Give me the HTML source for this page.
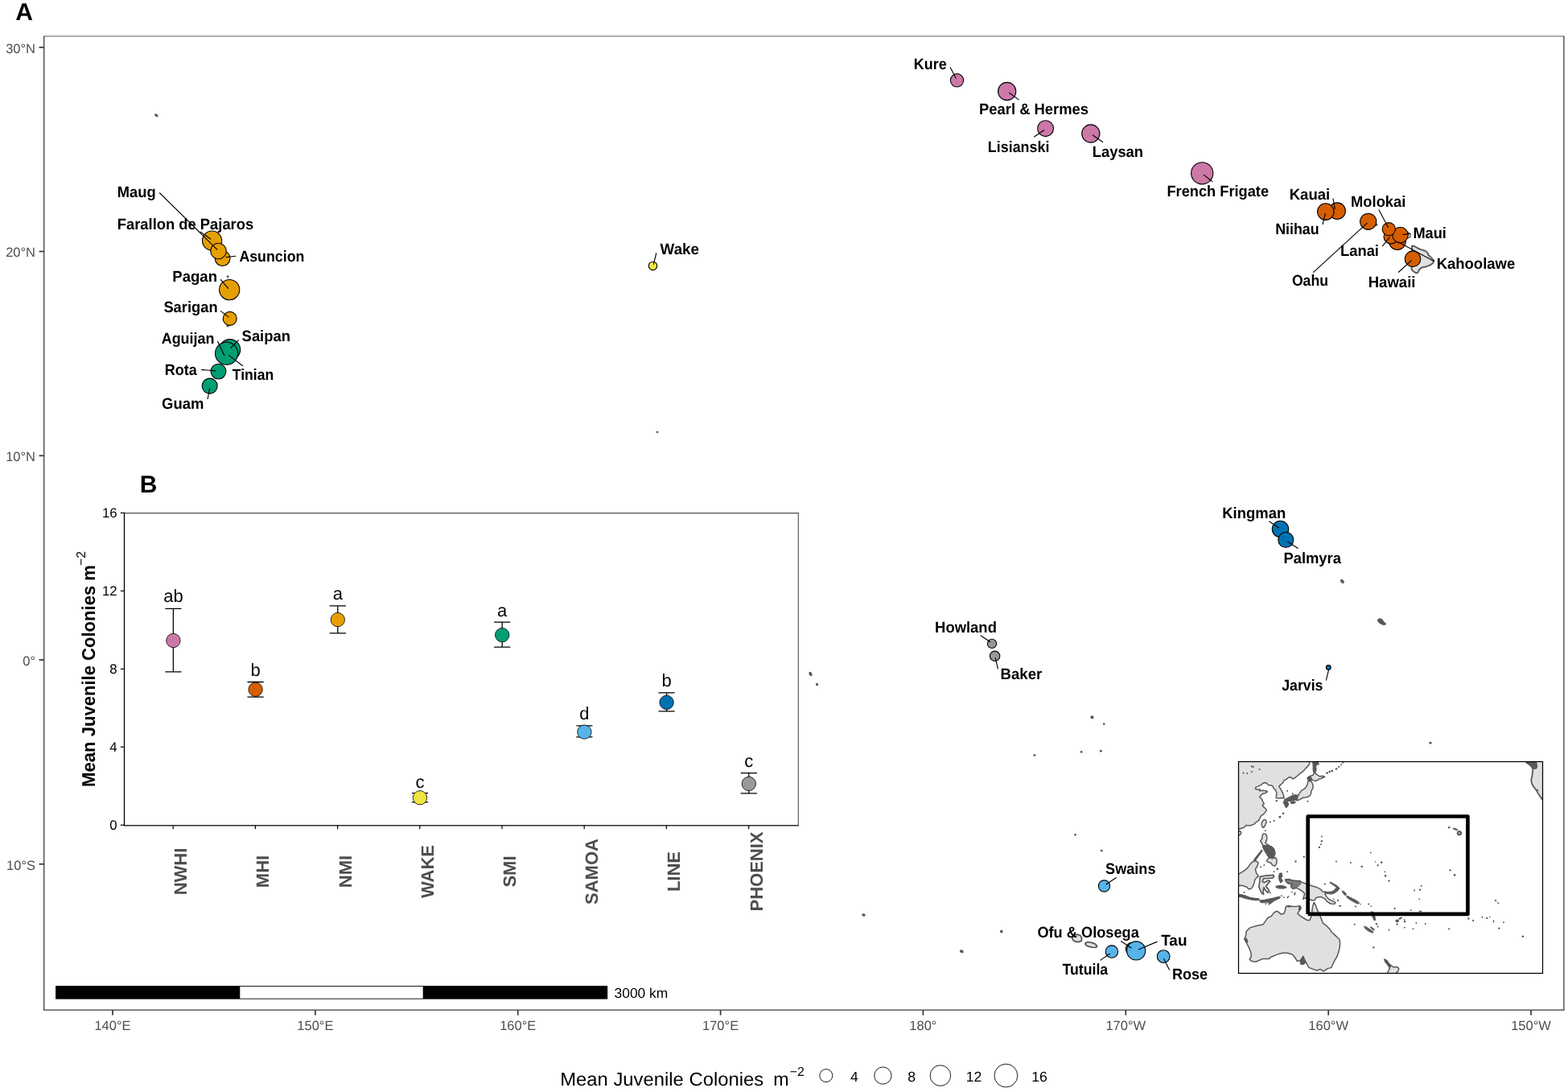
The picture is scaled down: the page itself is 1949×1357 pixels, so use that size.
<!DOCTYPE html>
<html lang="en">
<head>
<meta charset="utf-8">
<title>Mean juvenile coral colony density across the U.S. Pacific</title>
<style>
html,body{margin:0;padding:0;background:#fff;}
body{width:1949px;height:1357px;overflow:hidden;}
svg{display:block;font-family:"Liberation Sans",Arial,Helvetica,sans-serif;text-rendering:geometricPrecision;}
.lab{font-weight:bold;font-size:19.2px;fill:#000;}
.ax{font-size:16.5px;fill:#4d4d4d;}
.seg{stroke:#000;stroke-width:1.15;fill:none;}
.pt{stroke:#000;stroke-width:1.1;}
.isl{fill:#595959;stroke:none;}
.iland{fill:#e0e0e0;stroke:#595959;stroke-width:1.5;stroke-linejoin:round;}
.idark{fill:#595959;stroke:#595959;stroke-width:1.0;stroke-linejoin:round;}
.land{fill:#e0e0e0;stroke:#595959;stroke-width:1.2;stroke-linejoin:round;}
</style>
</head>
<body>
<svg role="img" aria-label="Map of mean juvenile coral colony density by island with regional summary plot" width="1949" height="1357" viewBox="0 0 1949 1357">
<rect x="0" y="0" width="1949" height="1357" fill="#ffffff"/>
<g id="map-islands">
<ellipse class="isl" cx="194.3" cy="143.3" rx="2.55" ry="1.55" transform="rotate(40 194.3 143.3)"/>
<ellipse class="isl" cx="283.1" cy="343.8" rx="1.45" ry="1.45" transform="rotate(0 283.1 343.8)"/>
<ellipse class="isl" cx="283.0" cy="405.3" rx="1.55" ry="1.25" transform="rotate(0 283.0 405.3)"/>
<ellipse class="isl" cx="817.0" cy="537.0" rx="1.45" ry="1.25" transform="rotate(0 817.0 537.0)"/>
<ellipse class="isl" cx="1007.5" cy="837.5" rx="1.85" ry="2.85" transform="rotate(-25 1007.5 837.5)"/>
<ellipse class="isl" cx="1015.5" cy="850.5" rx="1.55" ry="1.85" transform="rotate(-20 1015.5 850.5)"/>
<ellipse class="isl" cx="1286.0" cy="938.5" rx="1.55" ry="1.35" transform="rotate(0 1286.0 938.5)"/>
<ellipse class="isl" cx="1344.2" cy="934.4" rx="1.45" ry="1.45" transform="rotate(0 1344.2 934.4)"/>
<ellipse class="isl" cx="1368.4" cy="933.3" rx="1.45" ry="1.45" transform="rotate(0 1368.4 933.3)"/>
<ellipse class="isl" cx="1357.4" cy="891.3" rx="2.25" ry="1.95" transform="rotate(30 1357.4 891.3)"/>
<ellipse class="isl" cx="1372.2" cy="899.6" rx="1.35" ry="1.35" transform="rotate(0 1372.2 899.6)"/>
<ellipse class="isl" cx="1336.5" cy="1037.3" rx="1.35" ry="1.35" transform="rotate(0 1336.5 1037.3)"/>
<ellipse class="isl" cx="1369.3" cy="1057.2" rx="1.35" ry="1.35" transform="rotate(0 1369.3 1057.2)"/>
<ellipse class="isl" cx="1073.5" cy="1137.0" rx="2.25" ry="1.75" transform="rotate(10 1073.5 1137.0)"/>
<ellipse class="isl" cx="1195.3" cy="1182.3" rx="2.45" ry="1.85" transform="rotate(20 1195.3 1182.3)"/>
<ellipse class="isl" cx="1244.8" cy="1157.5" rx="1.75" ry="2.05" transform="rotate(0 1244.8 1157.5)"/>
<ellipse class="isl" cx="1668.4" cy="722.5" rx="2.85" ry="1.95" transform="rotate(50 1668.4 722.5)"/>
<ellipse class="isl" cx="1778.0" cy="923.2" rx="1.65" ry="1.45" transform="rotate(0 1778.0 923.2)"/>
<path class="isl" d="M1712.3 769.6 L1714.6 768.3 L1717.8 768.9 L1719.3 770.9 L1720.6 773.0 L1722.9 774.5 L1722.6 776.6 L1719.6 776.9 L1716.4 775.8 L1713.6 773.8 L1712.0 771.6 Z"/>
<path class="land" style="stroke-width:2;stroke:#5e5e5e" d="M1755.1 305.5 L1757.1 305.7 L1760.1 307.2 L1763.0 308.8 L1766.3 310.1 L1770.0 311.2 L1773.0 312.7 L1774.8 314.9 L1775.5 317.1 L1777.4 318.6 L1779.2 320.4 L1782.5 324.1 L1781.4 326.7 L1778.5 328.9 L1775.5 330.4 L1771.9 331.5 L1768.2 332.2 L1765.6 333.7 L1763.8 335.5 L1762.6 338.5 L1760.8 339.2 L1758.6 338.5 L1755.6 336.3 L1754.5 334.1 L1754.5 331.5 L1754.9 320.8 L1755.1 310.5 Z"/>
<path class="land" style="stroke-width:1.3" d="M1744 288.5 L1750.5 289.0 L1753.2 291.0 L1753.0 294.4 L1750.0 295.8 L1744 296 Z"/>
<ellipse class="isl" cx="1710.8" cy="279.2" rx="1.6" ry="1.6"/>
<path class="land" style="stroke-width:1.8" d="M1332.6 1165.0 L1335.0 1162.2 L1339.0 1161.2 L1343.0 1162.6 L1344.6 1165.8 L1344.2 1169.4 L1340.6 1170.6 L1336.4 1170.0 L1333.6 1168.0 Z"/>
<path class="land" style="stroke-width:1.8" d="M1348.8 1172.2 L1351.8 1170.6 L1357.0 1171.4 L1361.4 1173.2 L1363.6 1175.6 L1362.6 1177.4 L1357.6 1177.2 L1352.6 1176.0 L1349.6 1174.4 Z"/>
</g>
<g id="points">
<circle class="pt" cx="276.6" cy="321.1" r="9.4" fill="#E69F00"/>
<circle class="pt" cx="263.6" cy="299.1" r="12.1" fill="#E69F00"/>
<circle class="pt" cx="271.5" cy="312.0" r="9.8" fill="#E69F00"/>
<circle class="pt" cx="285.2" cy="360.1" r="12.6" fill="#E69F00"/>
<circle class="pt" cx="285.7" cy="395.9" r="8.5" fill="#E69F00"/>
<circle class="pt" cx="285.7" cy="434.6" r="13.0" fill="#009E73"/>
<circle class="pt" cx="280.0" cy="441.5" r="9.0" fill="#009E73"/>
<circle class="pt" cx="281.6" cy="439.2" r="14.1" fill="#009E73"/>
<circle class="pt" cx="271.5" cy="461.6" r="9.4" fill="#009E73"/>
<circle class="pt" cx="260.7" cy="479.6" r="9.5" fill="#009E73"/>
<circle class="pt" cx="811.5" cy="330.4" r="5.2" fill="#F0E442"/>
<circle class="pt" cx="1189.5" cy="99.8" r="8.15" fill="#CC79A7"/>
<circle class="pt" cx="1251.7" cy="113.5" r="11.1" fill="#CC79A7"/>
<circle class="pt" cx="1299.6" cy="159.7" r="9.9" fill="#CC79A7"/>
<circle class="pt" cx="1355.8" cy="166.0" r="11.1" fill="#CC79A7"/>
<circle class="pt" cx="1494.2" cy="215.3" r="13.6" fill="#CC79A7"/>
<circle class="pt" cx="1662.1" cy="262.2" r="10.3" fill="#D55E00"/>
<circle class="pt" cx="1647.8" cy="263.1" r="10.3" fill="#D55E00"/>
<circle class="pt" cx="1700.7" cy="275.3" r="10.1" fill="#D55E00"/>
<circle class="pt" cx="1736.9" cy="300.1" r="10.4" fill="#D55E00"/>
<circle class="pt" cx="1729.0" cy="293.9" r="9.0" fill="#D55E00"/>
<circle class="pt" cx="1740.5" cy="292.0" r="9.75" fill="#D55E00"/>
<circle class="pt" cx="1726.3" cy="284.7" r="8.1" fill="#D55E00"/>
<circle class="pt" cx="1756.0" cy="321.7" r="9.8" fill="#D55E00"/>
<circle class="pt" cx="1591.5" cy="657.5" r="10.2" fill="#0072B2"/>
<circle class="pt" cx="1598.3" cy="670.8" r="9.5" fill="#0072B2"/>
<circle class="pt" cx="1651.3" cy="829.5" r="2.9" fill="#0072B2"/>
<circle class="pt" cx="1233.0" cy="799.9" r="5.6" fill="#999999"/>
<circle class="pt" cx="1236.6" cy="815.3" r="6.2" fill="#999999"/>
<circle class="pt" cx="1372.5" cy="1101.0" r="7.1" fill="#56B4E9"/>
<circle class="pt" cx="1381.9" cy="1182.6" r="7.7" fill="#56B4E9"/>
<circle class="pt" cx="1407.2" cy="1179.2" r="7.9" fill="#56B4E9"/>
<circle class="pt" cx="1412.2" cy="1181.4" r="11.55" fill="#56B4E9"/>
<circle class="pt" cx="1446.2" cy="1188.6" r="7.9" fill="#56B4E9"/>
</g>
<g id="segments">
<line class="seg" x1="198.2" y1="239.5" x2="270.1" y2="310.3"/>
<line class="seg" x1="249.1" y1="287.9" x2="262.1" y2="297.3"/>
<line class="seg" x1="280.9" y1="319.6" x2="293.2" y2="318.2"/>
<line class="seg" x1="274.1" y1="347.1" x2="283.8" y2="358.6"/>
<line class="seg" x1="274.1" y1="386.4" x2="284.5" y2="394.4"/>
<line class="seg" x1="270.4" y1="424.0" x2="279.0" y2="442.1"/>
<line class="seg" x1="296.8" y1="422.3" x2="286.7" y2="432.7"/>
<line class="seg" x1="301.8" y1="454.7" x2="284.2" y2="441.4"/>
<line class="seg" x1="250.1" y1="459.4" x2="268.6" y2="460.9"/>
<line class="seg" x1="260.7" y1="482.5" x2="258.1" y2="496.0"/>
<line class="seg" x1="815.8" y1="314.3" x2="812.3" y2="328.7"/>
<line class="seg" x1="1181.1" y1="83.5" x2="1188.3" y2="97.4"/>
<line class="seg" x1="1254.3" y1="115.3" x2="1266.6" y2="124.1"/>
<line class="seg" x1="1298.0" y1="161.5" x2="1285.1" y2="170.3"/>
<line class="seg" x1="1358.0" y1="167.7" x2="1371.0" y2="176.8"/>
<line class="seg" x1="1496.0" y1="217.1" x2="1507.2" y2="225.8"/>
<line class="seg" x1="1657.0" y1="246.5" x2="1659.4" y2="260.0"/>
<line class="seg" x1="1647.4" y1="265.2" x2="1644.0" y2="279.0"/>
<line class="seg" x1="1713.8" y1="260.4" x2="1725.7" y2="283.1"/>
<line class="seg" x1="1699.4" y1="277.2" x2="1632.3" y2="338.6"/>
<line class="seg" x1="1718.2" y1="306.1" x2="1727.6" y2="294.5"/>
<line class="seg" x1="1743.3" y1="291.5" x2="1753.1" y2="290.4"/>
<line class="seg" x1="1737.6" y1="300.5" x2="1782.5" y2="324.7"/>
<line class="seg" x1="1754.7" y1="323.4" x2="1738.1" y2="338.5"/>
<line class="seg" x1="1577.5" y1="647.7" x2="1589.7" y2="656.0"/>
<line class="seg" x1="1600.3" y1="672.9" x2="1613.6" y2="681.6"/>
<line class="seg" x1="1651.6" y1="832.2" x2="1648.3" y2="845.6"/>
<line class="seg" x1="1218.8" y1="789.8" x2="1231.1" y2="797.8"/>
<line class="seg" x1="1237.1" y1="817.3" x2="1240.5" y2="831.3"/>
<line class="seg" x1="1374.7" y1="1099.1" x2="1387.7" y2="1090.4"/>
<line class="seg" x1="1393.2" y1="1169.6" x2="1406.5" y2="1178.2"/>
<line class="seg" x1="1415.1" y1="1180.0" x2="1438.5" y2="1170.1"/>
<line class="seg" x1="1379.7" y1="1185.0" x2="1367.5" y2="1193.4"/>
<line class="seg" x1="1446.5" y1="1191.2" x2="1453.7" y2="1205.5"/>
</g>
<g id="labels" class="lab">
<text x="145.8" y="245.3" textLength="47.9" lengthAdjust="spacingAndGlyphs">Maug</text>
<text x="145.8" y="284.7" textLength="169.4" lengthAdjust="spacingAndGlyphs">Farallon de Pajaros</text>
<text x="297.4" y="324.7" textLength="81.0" lengthAdjust="spacingAndGlyphs">Asuncion</text>
<text x="214.3" y="349.5" textLength="55.7" lengthAdjust="spacingAndGlyphs">Pagan</text>
<text x="203.4" y="387.9" textLength="67.2" lengthAdjust="spacingAndGlyphs">Sarigan</text>
<text x="200.7" y="427.4" textLength="65.8" lengthAdjust="spacingAndGlyphs">Aguijan</text>
<text x="300.6" y="423.8" textLength="60.4" lengthAdjust="spacingAndGlyphs">Saipan</text>
<text x="288.8" y="472.0" textLength="51.4" lengthAdjust="spacingAndGlyphs">Tinian</text>
<text x="204.7" y="466.2" textLength="40.0" lengthAdjust="spacingAndGlyphs">Rota</text>
<text x="201.1" y="508.1" textLength="52.4" lengthAdjust="spacingAndGlyphs">Guam</text>
<text x="820.6" y="316.0" textLength="48.4" lengthAdjust="spacingAndGlyphs">Wake</text>
<text x="1135.8" y="85.8" textLength="40.9" lengthAdjust="spacingAndGlyphs">Kure</text>
<text x="1217.1" y="142.0" textLength="135.9" lengthAdjust="spacingAndGlyphs">Pearl &amp; Hermes</text>
<text x="1227.8" y="188.6" textLength="76.6" lengthAdjust="spacingAndGlyphs">Lisianski</text>
<text x="1357.7" y="194.8" textLength="63.4" lengthAdjust="spacingAndGlyphs">Laysan</text>
<text x="1450.4" y="244.3" textLength="126.7" lengthAdjust="spacingAndGlyphs">French Frigate</text>
<text x="1602.7" y="247.7" textLength="50.6" lengthAdjust="spacingAndGlyphs">Kauai</text>
<text x="1585.2" y="291.2" textLength="54.5" lengthAdjust="spacingAndGlyphs">Niihau</text>
<text x="1679.1" y="256.8" textLength="68.2" lengthAdjust="spacingAndGlyphs">Molokai</text>
<text x="1756.4" y="295.7" textLength="41.5" lengthAdjust="spacingAndGlyphs">Maui</text>
<text x="1665.9" y="317.8" textLength="48.1" lengthAdjust="spacingAndGlyphs">Lanai</text>
<text x="1785.7" y="333.6" textLength="97.5" lengthAdjust="spacingAndGlyphs">Kahoolawe</text>
<text x="1700.7" y="356.7" textLength="58.8" lengthAdjust="spacingAndGlyphs">Hawaii</text>
<text x="1605.9" y="355.1" textLength="45.1" lengthAdjust="spacingAndGlyphs">Oahu</text>
<text x="1519.2" y="643.8" textLength="79.0" lengthAdjust="spacingAndGlyphs">Kingman</text>
<text x="1595.4" y="699.6" textLength="71.6" lengthAdjust="spacingAndGlyphs">Palmyra</text>
<text x="1593.2" y="857.9" textLength="51.3" lengthAdjust="spacingAndGlyphs">Jarvis</text>
<text x="1162.1" y="785.9" textLength="76.8" lengthAdjust="spacingAndGlyphs">Howland</text>
<text x="1243.6" y="843.5" textLength="51.6" lengthAdjust="spacingAndGlyphs">Baker</text>
<text x="1374.1" y="1085.8" textLength="62.4" lengthAdjust="spacingAndGlyphs">Swains</text>
<text x="1289.4" y="1165.2" textLength="126.4" lengthAdjust="spacingAndGlyphs">Ofu &amp; Olosega</text>
<text x="1320.5" y="1210.7" textLength="56.7" lengthAdjust="spacingAndGlyphs">Tutuila</text>
<text x="1443.2" y="1175.0" textLength="32.3" lengthAdjust="spacingAndGlyphs">Tau</text>
<text x="1456.9" y="1217.1" textLength="44.2" lengthAdjust="spacingAndGlyphs">Rose</text>
</g>
<g id="plot-b">
<rect x="96" y="586" width="902" height="560" fill="#ffffff"/>
<path d="M154.5 637.6 H992.3 V1025.8" fill="none" stroke="#4d4d4d" stroke-width="1.1"/>
<path d="M154.5 637.1 V1025.8 H992.8" fill="none" stroke="#000" stroke-width="1.3"/>
<line x1="149.8" x2="154.5" y1="1025.3" y2="1025.3" stroke="#000" stroke-width="1.2"/>
<text x="145.6" y="1031.3" text-anchor="end" font-size="16.8" fill="#000">0</text>
<line x1="149.8" x2="154.5" y1="928.3" y2="928.3" stroke="#000" stroke-width="1.2"/>
<text x="145.6" y="934.3" text-anchor="end" font-size="16.8" fill="#000">4</text>
<line x1="149.8" x2="154.5" y1="831.3" y2="831.3" stroke="#000" stroke-width="1.2"/>
<text x="145.6" y="837.3" text-anchor="end" font-size="16.8" fill="#000">8</text>
<line x1="149.8" x2="154.5" y1="734.3" y2="734.3" stroke="#000" stroke-width="1.2"/>
<text x="145.6" y="740.3" text-anchor="end" font-size="16.8" fill="#000">12</text>
<line x1="149.8" x2="154.5" y1="637.3" y2="637.3" stroke="#000" stroke-width="1.2"/>
<text x="145.6" y="643.3" text-anchor="end" font-size="16.8" fill="#000">16</text>
<line x1="215.2" x2="215.2" y1="1025.8" y2="1030.2" stroke="#000" stroke-width="1.2"/>
<text x="232.1" y="1083" text-anchor="middle" font-size="22" font-weight="bold" fill="#4d4d4d" transform="rotate(-90 232.1 1083)">NWHI</text>
<line x1="317.4" x2="317.4" y1="1025.8" y2="1030.2" stroke="#000" stroke-width="1.2"/>
<text x="334.3" y="1083" text-anchor="middle" font-size="22" font-weight="bold" fill="#4d4d4d" transform="rotate(-90 334.3 1083)">MHI</text>
<line x1="419.6" x2="419.6" y1="1025.8" y2="1030.2" stroke="#000" stroke-width="1.2"/>
<text x="436.5" y="1083" text-anchor="middle" font-size="22" font-weight="bold" fill="#4d4d4d" transform="rotate(-90 436.5 1083)">NMI</text>
<line x1="521.8" x2="521.8" y1="1025.8" y2="1030.2" stroke="#000" stroke-width="1.2"/>
<text x="538.7" y="1083" text-anchor="middle" font-size="22" font-weight="bold" fill="#4d4d4d" transform="rotate(-90 538.7 1083)">WAKE</text>
<line x1="624.0" x2="624.0" y1="1025.8" y2="1030.2" stroke="#000" stroke-width="1.2"/>
<text x="640.9" y="1083" text-anchor="middle" font-size="22" font-weight="bold" fill="#4d4d4d" transform="rotate(-90 640.9 1083)">SMI</text>
<line x1="726.2" x2="726.2" y1="1025.8" y2="1030.2" stroke="#000" stroke-width="1.2"/>
<text x="743.1" y="1083" text-anchor="middle" font-size="22" font-weight="bold" fill="#4d4d4d" transform="rotate(-90 743.1 1083)">SAMOA</text>
<line x1="828.4" x2="828.4" y1="1025.8" y2="1030.2" stroke="#000" stroke-width="1.2"/>
<text x="845.3" y="1083" text-anchor="middle" font-size="22" font-weight="bold" fill="#4d4d4d" transform="rotate(-90 845.3 1083)">LINE</text>
<line x1="930.6" x2="930.6" y1="1025.8" y2="1030.2" stroke="#000" stroke-width="1.2"/>
<text x="947.5" y="1083" text-anchor="middle" font-size="22" font-weight="bold" fill="#4d4d4d" transform="rotate(-90 947.5 1083)">PHOENIX</text>
<text x="118.0" y="977.9" font-size="23.0" font-weight="bold" fill="#000" textLength="275.9" lengthAdjust="spacingAndGlyphs" transform="rotate(-90 118.0 977.9)">Mean Juvenile Colonies m</text>
<text x="105.8" y="703.0" font-size="15.8" fill="#000" transform="rotate(-90 105.8 703.0)">−2</text>
<path d="M205.3 756.3 H225.5 M205.3 834.9 H225.5 M215.4 756.3 V834.9" stroke="#000" stroke-width="1.3" fill="none"/>
<circle cx="215.4" cy="796.0" r="8.7" fill="#CC79A7" stroke="#000" stroke-width="0.8"/>
<text x="215.4" y="747.9" text-anchor="middle" font-size="22" fill="#000">ab</text>
<path d="M307.5 847.5 H327.7 M307.5 866.2 H327.7 M317.6 847.5 V866.2" stroke="#000" stroke-width="1.3" fill="none"/>
<circle cx="317.6" cy="856.8" r="8.7" fill="#D55E00" stroke="#000" stroke-width="0.8"/>
<text x="317.6" y="839.5" text-anchor="middle" font-size="22" fill="#000">b</text>
<path d="M409.7 752.8 H429.9 M409.7 786.8 H429.9 M419.8 752.8 V786.8" stroke="#000" stroke-width="1.3" fill="none"/>
<circle cx="419.8" cy="770.1" r="8.7" fill="#E69F00" stroke="#000" stroke-width="0.8"/>
<text x="419.8" y="745.1" text-anchor="middle" font-size="22" fill="#000">a</text>
<path d="M511.9 985.6 H532.1 M511.9 996.9 H532.1 M522.0 985.6 V996.9" stroke="#000" stroke-width="1.3" fill="none"/>
<circle cx="522.0" cy="991.3" r="8.7" fill="#F0E442" stroke="#000" stroke-width="0.8"/>
<text x="522.0" y="978.6" text-anchor="middle" font-size="22" fill="#000">c</text>
<path d="M614.1 773.1 H634.3 M614.1 804.1 H634.3 M624.2 773.1 V804.1" stroke="#000" stroke-width="1.3" fill="none"/>
<circle cx="624.2" cy="789.1" r="8.7" fill="#009E73" stroke="#000" stroke-width="0.8"/>
<text x="624.2" y="765.5" text-anchor="middle" font-size="22" fill="#000">a</text>
<path d="M716.3 901.9 H736.5 M716.3 915.9 H736.5 M726.4 901.9 V915.9" stroke="#000" stroke-width="1.3" fill="none"/>
<circle cx="726.4" cy="909.6" r="8.7" fill="#56B4E9" stroke="#000" stroke-width="0.8"/>
<text x="726.4" y="893.5" text-anchor="middle" font-size="22" fill="#000">d</text>
<path d="M818.5 860.9 H838.7 M818.5 883.9 H838.7 M828.6 860.9 V883.9" stroke="#000" stroke-width="1.3" fill="none"/>
<circle cx="828.6" cy="872.9" r="8.7" fill="#0072B2" stroke="#000" stroke-width="0.8"/>
<text x="828.6" y="852.8" text-anchor="middle" font-size="22" fill="#000">b</text>
<path d="M920.7 960.6 H940.9 M920.7 985.9 H940.9 M930.8 960.6 V985.9" stroke="#000" stroke-width="1.3" fill="none"/>
<circle cx="930.8" cy="973.9" r="8.7" fill="#999999" stroke="#000" stroke-width="0.8"/>
<text x="930.8" y="952.6" text-anchor="middle" font-size="22" fill="#000">c</text>
<text x="184.6" y="611.9" text-anchor="middle" font-size="30" font-weight="bold" fill="#000">B</text>
</g>
<g id="inset">
<clipPath id="insetclip"><rect x="1539.5" y="946.5" width="378.0" height="263.0"/></clipPath>
<rect x="1539.5" y="946.5" width="378.0" height="263.0" fill="#ffffff"/>
<g clip-path="url(#insetclip)">
<path class="iland" d="M1536.2 944.1 L1628.0 944.1 L1627.5 949.8 L1624.9 952.9 L1622.3 955.5 L1619.7 958.6 L1616.1 961.1 L1612.5 964.2 L1609.4 966.8 L1606.8 967.8 L1604.3 965.8 L1602.2 965.8 L1599.1 968.4 L1596.0 969.9 L1594.5 973.0 L1591.9 975.1 L1589.8 977.1 L1591.9 980.7 L1594.0 984.4 L1595.5 988.5 L1596.0 992.1 L1592.9 991.6 L1589.8 992.1 L1586.2 991.4 L1586.9 985.4 L1585.2 981.3 L1583.1 979.7 L1582.1 977.1 L1580.5 976.1 L1576.4 975.6 L1574.9 973.5 L1572.3 972.5 L1569.7 973.5 L1567.1 975.6 L1564.0 977.1 L1560.9 978.2 L1560.4 980.2 L1563.0 981.3 L1566.1 980.7 L1565.6 982.8 L1569.2 982.3 L1573.3 982.8 L1575.4 983.8 L1573.3 985.4 L1570.2 985.9 L1567.6 988.0 L1565.6 990.5 L1568.2 992.6 L1569.7 996.2 L1571.3 998.8 L1569.2 1000.9 L1571.3 1003.4 L1573.3 1005.0 L1574.4 1007.0 L1572.3 1009.6 L1570.2 1012.2 L1567.6 1013.7 L1566.1 1016.8 L1564.6 1019.4 L1561.5 1021.5 L1558.9 1024.1 L1555.3 1025.6 L1551.7 1026.1 L1548.6 1025.6 L1546.5 1028.2 L1542.9 1029.2 L1539.1 1030.8 L1536.2 1031.3 Z"/>
<path class="iland" d="M1536.2 1033.3 L1541.3 1032.8 L1542.9 1034.4 L1541.9 1037.0 L1539.8 1038.0 L1536.2 1038.0 Z"/>
<circle class="isl" cx="1555.8" cy="952.4" r="1.04"/>
<circle class="isl" cx="1557.8" cy="952.9" r="1.04"/>
<circle class="isl" cx="1565.6" cy="956.0" r="1.04"/>
<circle class="isl" cx="1545.5" cy="960.6" r="1.04"/>
<circle class="isl" cx="1550.1" cy="961.1" r="1.04"/>
<circle class="isl" cx="1555.8" cy="959.1" r="1.04"/>
<path class="iland" d="M1571.3 1018.4 L1573.3 1018.9 L1574.1 1021.5 L1572.8 1025.1 L1570.7 1028.5 L1569.0 1027.7 L1568.0 1024.1 L1569.2 1020.5 Z"/>
<path class="iland" d="M1597.0 993.6 L1601.2 991.6 L1605.3 989.5 L1609.4 988.0 L1613.5 988.5 L1615.6 985.4 L1617.7 982.3 L1620.8 980.7 L1623.3 978.2 L1624.9 975.1 L1625.9 970.9 L1628.0 969.9 L1630.6 972.0 L1632.1 976.1 L1631.6 980.2 L1630.1 982.3 L1629.5 986.4 L1628.0 989.0 L1624.9 990.5 L1621.8 991.1 L1618.7 991.6 L1615.6 993.6 L1612.5 994.7 L1609.4 993.6 L1606.3 994.7 L1602.2 995.2 L1599.1 994.7 Z"/>
<path class="idark" d="M1596.0 994.7 L1600.1 995.7 L1601.7 998.8 L1600.7 1001.9 L1598.6 1004.0 L1597.0 1000.9 L1595.5 997.8 Z"/>
<path class="idark" d="M1604.3 996.2 L1609.4 995.7 L1610.5 997.2 L1607.4 998.8 L1604.3 998.3 Z"/>
<path class="idark" d="M1597.0 993.6 L1601.2 991.6 L1605.3 989.5 L1609.4 988.0 L1613.5 988.5 L1612.5 994.7 L1609.4 993.6 L1606.3 994.7 L1602.2 995.2 L1599.1 994.7 Z"/>
<path class="iland" d="M1625.9 965.8 L1629.0 964.2 L1632.1 963.2 L1634.2 959.6 L1636.2 962.2 L1640.4 964.8 L1644.5 964.2 L1646.6 965.3 L1642.4 967.3 L1639.3 968.4 L1636.2 970.4 L1633.1 969.9 L1630.6 968.9 L1628.0 970.9 L1626.4 968.9 Z"/>
<path class="idark" d="M1624.9 966.3 L1628.5 964.8 L1630.6 966.8 L1629.5 970.4 L1627.0 970.9 L1625.4 968.9 Z"/>
<path class="idark" d="M1631.6 944.1 L1637.8 944.1 L1639.3 950.3 L1637.3 949.8 L1635.7 952.4 L1636.2 956.5 L1635.2 959.6 L1633.1 960.6 L1632.1 957.5 L1632.1 952.4 Z"/>
<circle class="isl" cx="1649.6" cy="960.6" r="1.3"/>
<circle class="isl" cx="1652.7" cy="959.1" r="1.3"/>
<circle class="isl" cx="1655.8" cy="958.1" r="1.43"/>
<circle class="isl" cx="1661.0" cy="955.5" r="1.3"/>
<circle class="isl" cx="1664.1" cy="952.9" r="1.04"/>
<circle class="isl" cx="1667.2" cy="950.3" r="1.04"/>
<circle class="isl" cx="1669.2" cy="947.7" r="1.04"/>
<circle class="isl" cx="1595.0" cy="1010.7" r="1.3"/>
<circle class="isl" cx="1590.9" cy="1015.3" r="1.43"/>
<circle class="isl" cx="1583.6" cy="1019.9" r="1.04"/>
<circle class="isl" cx="1579.0" cy="1021.5" r="1.04"/>
<circle class="isl" cx="1600.1" cy="982.8" r="1.04"/>
<circle class="isl" cx="1606.8" cy="986.4" r="1.04"/>
<circle class="isl" cx="1625.4" cy="995.7" r="1.04"/>
<circle class="isl" cx="1586.7" cy="995.2" r="1.17"/>
<circle class="isl" cx="1572.8" cy="1032.3" r="1.04"/>
<path class="iland" d="M1570.7 1035.9 L1573.8 1037.0 L1574.9 1040.6 L1574.4 1044.2 L1572.8 1047.3 L1575.4 1049.3 L1578.5 1051.4 L1581.6 1052.9 L1583.6 1055.5 L1582.1 1056.0 L1578.5 1054.0 L1575.4 1052.4 L1572.3 1051.4 L1569.7 1050.4 L1568.2 1047.3 L1566.6 1045.2 L1568.7 1042.1 L1569.2 1038.0 Z"/>
<path class="idark" d="M1569.7 1050.9 L1575.4 1050.4 L1580.5 1051.9 L1584.2 1055.5 L1585.2 1060.7 L1583.6 1065.3 L1580.5 1067.4 L1576.9 1065.8 L1574.4 1061.7 L1571.8 1057.6 L1569.7 1053.5 Z"/>
<path class="idark" d="M1568.2 1056.0 L1569.4 1057.1 L1560.9 1068.9 L1558.9 1069.7 L1558.4 1068.4 Z"/>
<path class="iland" d="M1575.4 1067.9 L1578.5 1065.8 L1581.6 1066.9 L1585.7 1065.8 L1587.2 1068.9 L1586.7 1073.1 L1584.7 1076.2 L1581.6 1075.1 L1579.5 1072.0 L1576.4 1071.5 L1574.4 1070.0 Z"/>
<circle class="isl" cx="1642.9" cy="1039.5" r="0.98"/>
<circle class="isl" cx="1642.9" cy="1045.2" r="1.17"/>
<circle class="isl" cx="1641.9" cy="1049.3" r="0.98"/>
<circle class="isl" cx="1639.9" cy="1052.9" r="1.17"/>
<circle class="isl" cx="1620.8" cy="1064.8" r="1.17"/>
<circle class="isl" cx="1610.5" cy="1070.5" r="1.17"/>
<circle class="isl" cx="1661.0" cy="1070.5" r="0.98"/>
<circle class="isl" cx="1679.0" cy="1072.0" r="0.98"/>
<circle class="isl" cx="1693.0" cy="1076.7" r="0.98"/>
<circle class="isl" cx="1703.8" cy="1059.6" r="0.98"/>
<circle class="isl" cx="1709.5" cy="1071.0" r="0.78"/>
<circle class="isl" cx="1712.6" cy="1075.1" r="0.98"/>
<circle class="isl" cx="1717.2" cy="1071.8" r="1.3"/>
<circle class="isl" cx="1567.1" cy="1077.2" r="0.98"/>
<circle class="isl" cx="1571.3" cy="1075.1" r="0.98"/>
<circle class="isl" cx="1587.8" cy="1079.2" r="0.98"/>
<path class="iland" d="M1536.2 1088.4 L1541.9 1084.8 L1545.5 1082.7 L1549.1 1080.2 L1552.2 1076.5 L1554.8 1072.9 L1557.8 1070.4 L1560.9 1069.8 L1564.0 1071.9 L1563.0 1076.0 L1560.4 1080.2 L1561.5 1084.8 L1564.6 1088.9 L1562.0 1090.5 L1559.9 1093.1 L1558.9 1097.2 L1557.3 1101.8 L1554.8 1104.4 L1552.2 1104.9 L1549.6 1102.3 L1545.5 1100.8 L1541.3 1100.3 L1536.2 1100.8 Z"/>
<path class="iland" style="stroke-width:1.7" d="M1566.6 1089.4 L1573.3 1088.2 L1582.6 1087.4 L1583.8 1089.2 L1581.6 1091.1 L1575.4 1091.5 L1570.4 1091.9 L1569.2 1095.6 L1571.5 1096.7 L1576.4 1093.9 L1578.7 1095.1 L1575.8 1098.5 L1573.7 1101.6 L1576.4 1104.9 L1577.7 1108.2 L1575.6 1109.2 L1572.5 1105.9 L1571.1 1102.8 L1570.0 1107.0 L1570.6 1111.3 L1568.4 1110.1 L1566.3 1105.9 L1564.8 1101.8 L1565.6 1096.7 L1565.9 1092.5 Z"/>
<path class="idark" d="M1590.3 1085.3 L1592.9 1084.8 L1594.0 1088.4 L1592.4 1091.5 L1594.5 1094.6 L1591.9 1097.2 L1590.3 1094.6 L1589.3 1090.5 Z"/>
<path class="idark" d="M1585.7 1101.3 L1591.9 1100.3 L1597.0 1101.3 L1599.3 1102.8 L1596.0 1104.1 L1589.8 1104.1 L1586.2 1102.8 Z"/>
<path class="idark" d="M1536.2 1111.1 L1543.4 1111.6 L1548.6 1113.2 L1553.7 1115.2 L1559.9 1116.3 L1565.1 1116.8 L1565.1 1118.8 L1559.9 1118.8 L1553.7 1117.8 L1547.5 1116.3 L1542.4 1114.7 L1536.2 1114.2 Z"/>
<path class="idark" d="M1566.1 1118.8 L1571.3 1118.3 L1576.4 1117.3 L1581.6 1116.3 L1587.8 1114.7 L1590.9 1114.2 L1591.4 1115.7 L1587.8 1117.5 L1583.6 1119.6 L1579.5 1122.7 L1576.9 1124.2 L1577.4 1121.4 L1573.3 1121.1 L1569.2 1121.9 L1566.1 1120.9 Z"/>
<ellipse class="isl" cx="1600.9" cy="1114.7" rx="1.96" ry="0.83" transform="rotate(-55 1600.9 1114.7)"/>
<ellipse class="isl" cx="1605.8" cy="1108.6" rx="1.03" ry="0.72" transform="rotate(-30 1605.8 1108.6)"/>
<ellipse class="isl" cx="1609.4" cy="1110.6" rx="0.93" ry="2.06" transform="rotate(10 1609.4 1110.6)"/>
<circle class="isl" cx="1600.1" cy="1083.3" r="0.98"/>
<circle class="isl" cx="1587.8" cy="1080.2" r="1.17"/>
<circle class="isl" cx="1583.6" cy="1083.3" r="1.04"/>
<circle class="isl" cx="1573.3" cy="1123.0" r="1.04"/>
<circle class="isl" cx="1546.5" cy="1109.0" r="1.04"/>
<circle class="isl" cx="1579.0" cy="1109.6" r="0.91"/>
<circle class="isl" cx="1596.0" cy="1115.2" r="0.91"/>
<circle class="isl" cx="1592.9" cy="1113.2" r="0.91"/>
<path class="iland" d="M1597.6 1093.1 L1602.2 1092.5 L1606.3 1094.1 L1611.5 1094.6 L1615.6 1094.6 L1617.7 1096.1 L1620.8 1097.2 L1625.9 1099.2 L1632.1 1101.3 L1637.3 1102.8 L1641.4 1104.9 L1644.0 1108.0 L1647.6 1108.5 L1647.1 1111.1 L1649.1 1114.7 L1652.2 1117.8 L1656.9 1119.9 L1660.0 1121.4 L1658.9 1123.5 L1653.8 1123.0 L1649.6 1120.4 L1646.6 1116.8 L1642.4 1114.7 L1638.3 1114.7 L1635.2 1116.3 L1634.2 1118.8 L1630.6 1118.8 L1627.0 1117.3 L1622.8 1115.7 L1619.7 1117.3 L1620.8 1113.7 L1621.8 1110.6 L1618.7 1107.5 L1614.6 1104.9 L1611.0 1103.4 L1606.8 1104.4 L1604.3 1101.3 L1606.3 1098.7 L1602.7 1098.2 L1600.1 1097.2 L1598.1 1095.1 Z"/>
<path class="idark" fill-opacity="0.75" d="M1597.6 1093.1 L1602.2 1092.5 L1606.3 1094.1 L1611.5 1094.6 L1615.6 1094.6 L1617.2 1097.2 L1615.1 1100.3 L1611.5 1102.8 L1606.8 1104.4 L1604.3 1101.3 L1606.3 1098.7 L1602.7 1098.2 L1600.1 1097.2 L1598.1 1095.1 Z"/>
<path class="idark" d="M1646.6 1108.0 L1650.7 1108.5 L1655.3 1108.0 L1658.9 1105.9 L1661.5 1102.0 L1664.1 1103.4 L1663.3 1106.5 L1659.4 1109.6 L1654.8 1111.1 L1650.2 1110.6 L1647.1 1110.1 Z"/>
<path class="idark" d="M1653.8 1096.1 L1655.3 1096.9 L1660.0 1099.5 L1663.6 1102.0 L1665.3 1104.4 L1663.8 1105.1 L1660.5 1102.0 L1656.4 1099.3 L1653.3 1097.3 Z"/>
<path class="idark" d="M1668.2 1107.0 L1670.8 1108.0 L1673.9 1111.6 L1672.3 1112.9 L1669.2 1109.8 Z"/>
<path class="idark" d="M1674.4 1113.2 L1677.5 1114.7 L1681.6 1116.8 L1684.7 1118.3 L1687.8 1120.4 L1689.7 1122.0 L1688.0 1123.3 L1684.2 1121.6 L1680.6 1119.6 L1676.5 1117.0 L1673.9 1114.9 Z"/>
<ellipse class="isl" cx="1646.9" cy="1098.7" rx="1.55" ry="0.72" transform="rotate(15 1646.9 1098.7)"/>
<ellipse class="isl" cx="1690.9" cy="1123.5" rx="1.03" ry="0.62" transform="rotate(30 1690.9 1123.5)"/>
<ellipse class="isl" cx="1685.0" cy="1126.3" rx="1.55" ry="0.72" transform="rotate(25 1685.0 1126.3)"/>
<ellipse class="isl" cx="1665.6" cy="1125.7" rx="1.75" ry="0.93" transform="rotate(-10 1665.6 1125.7)"/>
<circle class="isl" cx="1663.1" cy="1118.8" r="1.17"/>
<circle class="isl" cx="1657.9" cy="1117.3" r="0.91"/>
<circle class="isl" cx="1701.2" cy="1123.5" r="1.04"/>
<circle class="isl" cx="1704.3" cy="1126.1" r="0.91"/>
<circle class="isl" cx="1653.8" cy="1096.7" r="0.91"/>
<circle class="isl" cx="1683.7" cy="1148.7" r="1.04"/>
<circle class="isl" cx="1707.4" cy="1177.4" r="1.17"/>
<circle class="isl" cx="1726.5" cy="1155.5" r="1.04"/>
<circle class="isl" cx="1692.5" cy="1076.9" r="1.04"/>
<circle class="isl" cx="1712.6" cy="1075.5" r="0.91"/>
<circle class="isl" cx="1721.3" cy="1083.3" r="0.91"/>
<circle class="isl" cx="1722.1" cy="1088.4" r="1.3"/>
<circle class="isl" cx="1726.5" cy="1094.6" r="1.17"/>
<path class="iland" d="M1547.0 1166.8 L1548.6 1162.7 L1549.1 1157.5 L1553.7 1152.9 L1560.9 1150.8 L1570.2 1148.7 L1573.3 1144.1 L1575.9 1140.5 L1580.5 1138.4 L1583.6 1133.8 L1587.8 1132.2 L1591.9 1135.9 L1596.0 1135.3 L1597.6 1130.7 L1598.1 1126.6 L1602.2 1125.5 L1606.3 1126.6 L1611.5 1126.6 L1615.6 1125.5 L1617.2 1128.6 L1614.6 1132.2 L1613.0 1135.3 L1615.6 1137.9 L1620.8 1141.0 L1624.9 1143.6 L1628.0 1143.6 L1629.5 1140.0 L1630.6 1133.8 L1631.6 1126.6 L1633.1 1121.4 L1635.2 1124.5 L1637.3 1130.7 L1640.4 1136.9 L1642.4 1142.0 L1644.5 1147.2 L1648.6 1150.3 L1652.7 1154.4 L1655.3 1158.5 L1658.9 1161.6 L1663.1 1165.8 L1665.1 1167.8 L1665.6 1173.0 L1665.1 1178.1 L1663.6 1183.3 L1662.0 1188.5 L1658.9 1193.6 L1656.4 1198.8 L1654.8 1202.4 L1649.6 1203.9 L1645.5 1207.0 L1640.9 1204.4 L1637.3 1206.0 L1632.1 1204.4 L1627.0 1202.4 L1624.9 1198.8 L1623.3 1195.7 L1620.8 1193.6 L1619.7 1188.5 L1616.6 1193.6 L1612.5 1194.6 L1609.4 1189.5 L1606.3 1185.9 L1600.1 1184.3 L1594.0 1184.3 L1586.7 1186.4 L1579.5 1189.5 L1577.4 1191.6 L1569.2 1191.6 L1560.9 1195.2 L1555.8 1194.6 L1553.2 1192.1 L1555.3 1188.5 L1554.8 1183.3 L1552.2 1177.1 L1550.1 1173.0 L1548.6 1169.9 Z"/>
<path class="idark" d="M1616.1 1193.6 L1619.9 1187.9 L1623.3 1195.7 L1620.8 1198.3 L1616.6 1198.3 Z"/>
<path class="idark" d="M1546.5 1166.3 L1549.1 1165.8 L1551.1 1169.4 L1550.1 1172.0 L1548.1 1170.4 Z"/>
<ellipse class="isl" cx="1602.2" cy="1126.3" rx="4.13" ry="1.13" transform="rotate(0 1602.2 1126.3)"/>
<ellipse class="isl" cx="1615.6" cy="1128.6" rx="1.55" ry="3.09" transform="rotate(10 1615.6 1128.6)"/>
<path class="idark" d="M1704.3 1132.8 L1706.9 1133.3 L1709.0 1139.0 L1709.7 1143.6 L1707.9 1143.6 L1705.9 1139.0 Z"/>
<circle class="isl" cx="1711.0" cy="1148.2" r="1.17"/>
<circle class="isl" cx="1712.6" cy="1151.5" r="1.04"/>
<path class="idark" d="M1695.5 1151.1 L1697.6 1151.5 L1703.3 1155.2 L1707.1 1158.0 L1706.1 1159.3 L1701.2 1157.2 L1697.1 1154.1 Z"/>
<path class="idark" d="M1703.3 1151.8 L1705.3 1152.6 L1708.6 1155.2 L1707.6 1156.0 L1704.3 1153.6 Z"/>
<path class="iland" d="M1720.8 1192.1 L1723.9 1193.6 L1726.5 1197.7 L1729.1 1199.8 L1732.2 1201.9 L1736.3 1201.4 L1738.8 1203.4 L1737.8 1207.0 L1734.2 1210.1 L1723.9 1210.1 L1726.0 1206.0 L1727.5 1202.9 L1724.9 1198.8 L1722.1 1195.5 Z"/>
<path class="idark" d="M1720.8 1192.1 L1723.9 1193.6 L1726.5 1197.7 L1729.1 1199.8 L1727.5 1202.9 L1724.9 1198.8 L1722.1 1195.5 Z"/>
<circle class="isl" cx="1802.5" cy="1081.4" r="1.17"/>
<circle class="isl" cx="1808.1" cy="1087.4" r="1.3"/>
<circle class="isl" cx="1766.8" cy="1100.8" r="1.04"/>
<circle class="isl" cx="1758.1" cy="1106.5" r="1.04"/>
<circle class="isl" cx="1764.9" cy="1105.7" r="1.17"/>
<circle class="isl" cx="1764.2" cy="1117.3" r="0.91"/>
<circle class="isl" cx="1733.6" cy="1128.9" r="1.04"/>
<circle class="isl" cx="1753.7" cy="1131.0" r="0.91"/>
<circle class="isl" cx="1746.0" cy="1145.1" r="1.3"/>
<circle class="isl" cx="1736.7" cy="1148.4" r="1.17"/>
<circle class="isl" cx="1745.5" cy="1142.6" r="0.78"/>
<circle class="isl" cx="1760.4" cy="1147.0" r="0.91"/>
<circle class="isl" cx="1771.8" cy="1148.0" r="1.04"/>
<circle class="isl" cx="1745.8" cy="1152.7" r="0.91"/>
<circle class="isl" cx="1801.2" cy="1154.4" r="1.04"/>
<circle class="isl" cx="1825.4" cy="1141.5" r="1.17"/>
<circle class="isl" cx="1842.4" cy="1139.7" r="1.04"/>
<circle class="isl" cx="1848.1" cy="1140.8" r="1.17"/>
<circle class="isl" cx="1851.7" cy="1139.5" r="0.78"/>
<circle class="isl" cx="1869.0" cy="1146.2" r="1.04"/>
<circle class="isl" cx="1863.1" cy="1153.6" r="1.17"/>
<circle class="isl" cx="1892.8" cy="1163.7" r="1.3"/>
<ellipse class="isl" cx="1765.6" cy="1132.5" rx="2.06" ry="0.83" transform="rotate(10 1765.6 1132.5)"/>
<ellipse class="isl" cx="1736.7" cy="1144.3" rx="2.27" ry="1.86" transform="rotate(0 1736.7 1144.3)"/>
<ellipse class="isl" cx="1740.6" cy="1141.2" rx="2.58" ry="1.13" transform="rotate(-25 1740.6 1141.2)"/>
<ellipse class="isl" cx="1756.5" cy="1154.2" rx="1.24" ry="0.72" transform="rotate(15 1756.5 1154.2)"/>
<ellipse class="isl" cx="1831.1" cy="1143.9" rx="1.34" ry="0.93" transform="rotate(35 1831.1 1143.9)"/>
<ellipse class="isl" cx="1856.4" cy="1144.9" rx="0.83" ry="1.55" transform="rotate(0 1856.4 1144.9)"/>
<ellipse class="isl" cx="1859.1" cy="1119.1" rx="1.34" ry="0.93" transform="rotate(20 1859.1 1119.1)"/>
<ellipse class="isl" cx="1862.2" cy="1122.2" rx="0.93" ry="1.13" transform="rotate(-20 1862.2 1122.2)"/>
<ellipse class="isl" cx="1801.2" cy="1028.2" rx="1.65" ry="1.03" transform="rotate(-25 1801.2 1028.2)"/>
<ellipse class="isl" cx="1808.8" cy="1030.3" rx="3.51" ry="1.13" transform="rotate(17 1808.8 1030.3)"/>
<path class="iland" style="stroke-width:1.7;fill:#9a9a9a" d="M1812.2 1033.3 L1814.6 1032.8 L1816.6 1034.9 L1815.6 1037.2 L1813.1 1037.7 L1811.5 1035.9 Z"/>
<path class="iland" style="stroke-width:1.8" d="M1896.1 944.1 L1920.8 944.1 L1920.8 995.7 L1917.2 993.6 L1915.7 991.6 L1913.6 988.5 L1911.5 985.4 L1910.0 982.3 L1907.4 979.2 L1905.3 976.1 L1903.8 973.0 L1903.3 968.9 L1904.3 964.8 L1904.8 960.6 L1905.3 956.5 L1904.3 953.4 L1901.2 950.3 L1898.1 948.3 Z"/>
<path class="idark" d="M1895.5 946.4 L1909.5 946.4 L1910.7 951.3 L1910.0 955.0 L1906.4 955.5 L1904.8 952.4 L1901.2 950.3 L1898.1 948.5 Z"/>
<ellipse class="isl" cx="1911.0" cy="981.8" rx="1.75" ry="0.83" transform="rotate(20 1911.0 981.8)"/>
</g>
<path d="M1625.7 1135.9 V1014.5 H1824.4 V1135.9 H1625.7" fill="none" stroke="#000" stroke-width="4.7" stroke-linejoin="round" stroke-linecap="butt"/>
<rect x="1539.5" y="946.5" width="378.0" height="263.0" fill="none" stroke="#000" stroke-width="1.25"/>
</g>
<g id="scalebar">
<rect x="69.1" y="1225.0" width="686.1" height="16.6" fill="#000"/>
<rect x="298.3" y="1225.9" width="227.4" height="14.8" fill="#fff"/>
<text x="763.6" y="1240.0" font-size="17.4" fill="#000">3000 km</text>
</g>
<g id="axes">
<path d="M54.1 45.0 H1944.5" fill="none" stroke="#5e5e5e" stroke-width="1.2"/>
<path d="M54.7 44.9 V1255.2 H1943.9 V44.9" fill="none" stroke="#3d3d3d" stroke-width="1.3" stroke-linejoin="miter"/>
<line x1="48.6" x2="54.7" y1="58.8" y2="58.8" stroke="#333" stroke-width="1.7"/>
<text class="ax" x="44.0" y="65.6" text-anchor="end">30°N</text>
<line x1="48.6" x2="54.7" y1="312.5" y2="312.5" stroke="#333" stroke-width="1.7"/>
<text class="ax" x="44.0" y="319.3" text-anchor="end">20°N</text>
<line x1="48.6" x2="54.7" y1="566.3" y2="566.3" stroke="#333" stroke-width="1.7"/>
<text class="ax" x="44.0" y="573.1" text-anchor="end">10°N</text>
<line x1="48.6" x2="54.7" y1="820.0" y2="820.0" stroke="#333" stroke-width="1.7"/>
<text class="ax" x="44.0" y="826.8" text-anchor="end">0°</text>
<line x1="48.6" x2="54.7" y1="1073.8" y2="1073.8" stroke="#333" stroke-width="1.7"/>
<text class="ax" x="44.0" y="1080.6" text-anchor="end">10°S</text>
<line x1="140.0" x2="140.0" y1="1255.2" y2="1261.6" stroke="#333" stroke-width="1.7"/>
<text class="ax" x="140.0" y="1279.6" text-anchor="middle">140°E</text>
<line x1="391.9" x2="391.9" y1="1255.2" y2="1261.6" stroke="#333" stroke-width="1.7"/>
<text class="ax" x="391.9" y="1279.6" text-anchor="middle">150°E</text>
<line x1="643.7" x2="643.7" y1="1255.2" y2="1261.6" stroke="#333" stroke-width="1.7"/>
<text class="ax" x="643.7" y="1279.6" text-anchor="middle">160°E</text>
<line x1="895.6" x2="895.6" y1="1255.2" y2="1261.6" stroke="#333" stroke-width="1.7"/>
<text class="ax" x="895.6" y="1279.6" text-anchor="middle">170°E</text>
<line x1="1147.4" x2="1147.4" y1="1255.2" y2="1261.6" stroke="#333" stroke-width="1.7"/>
<text class="ax" x="1147.4" y="1279.6" text-anchor="middle">180°</text>
<line x1="1399.3" x2="1399.3" y1="1255.2" y2="1261.6" stroke="#333" stroke-width="1.7"/>
<text class="ax" x="1399.3" y="1279.6" text-anchor="middle">170°W</text>
<line x1="1651.2" x2="1651.2" y1="1255.2" y2="1261.6" stroke="#333" stroke-width="1.7"/>
<text class="ax" x="1651.2" y="1279.6" text-anchor="middle">160°W</text>
<line x1="1903.0" x2="1903.0" y1="1255.2" y2="1261.6" stroke="#333" stroke-width="1.7"/>
<text class="ax" x="1903.0" y="1279.6" text-anchor="middle">150°W</text>
</g>
<text x="30.0" y="24.9" text-anchor="middle" font-size="30" font-weight="bold" fill="#000">A</text>
<g id="legend">
<text x="696.2" y="1348.7" font-size="23.2" fill="#000" textLength="253.0" lengthAdjust="spacingAndGlyphs">Mean Juvenile Colonies</text>
<text x="961.2" y="1348.7" font-size="23.2" fill="#000">m</text>
<text x="981.8" y="1336.9" font-size="15.8" fill="#000">−2</text>
<circle cx="1026.8" cy="1336.6" r="8.0" fill="#fff" stroke="#1a1a1a" stroke-width="1"/>
<text x="1062.0" y="1343.6" text-anchor="middle" font-size="17.6" fill="#000">4</text>
<circle cx="1097.4" cy="1336.6" r="10.6" fill="#fff" stroke="#1a1a1a" stroke-width="1"/>
<text x="1133.1" y="1343.6" text-anchor="middle" font-size="17.6" fill="#000">8</text>
<circle cx="1168.9" cy="1336.6" r="12.8" fill="#fff" stroke="#1a1a1a" stroke-width="1"/>
<text x="1210.5" y="1343.6" text-anchor="middle" font-size="17.6" fill="#000">12</text>
<circle cx="1250.4" cy="1336.6" r="14.4" fill="#fff" stroke="#1a1a1a" stroke-width="1"/>
<text x="1292.0" y="1343.6" text-anchor="middle" font-size="17.6" fill="#000">16</text>
</g>
</svg>
</body>
</html>
